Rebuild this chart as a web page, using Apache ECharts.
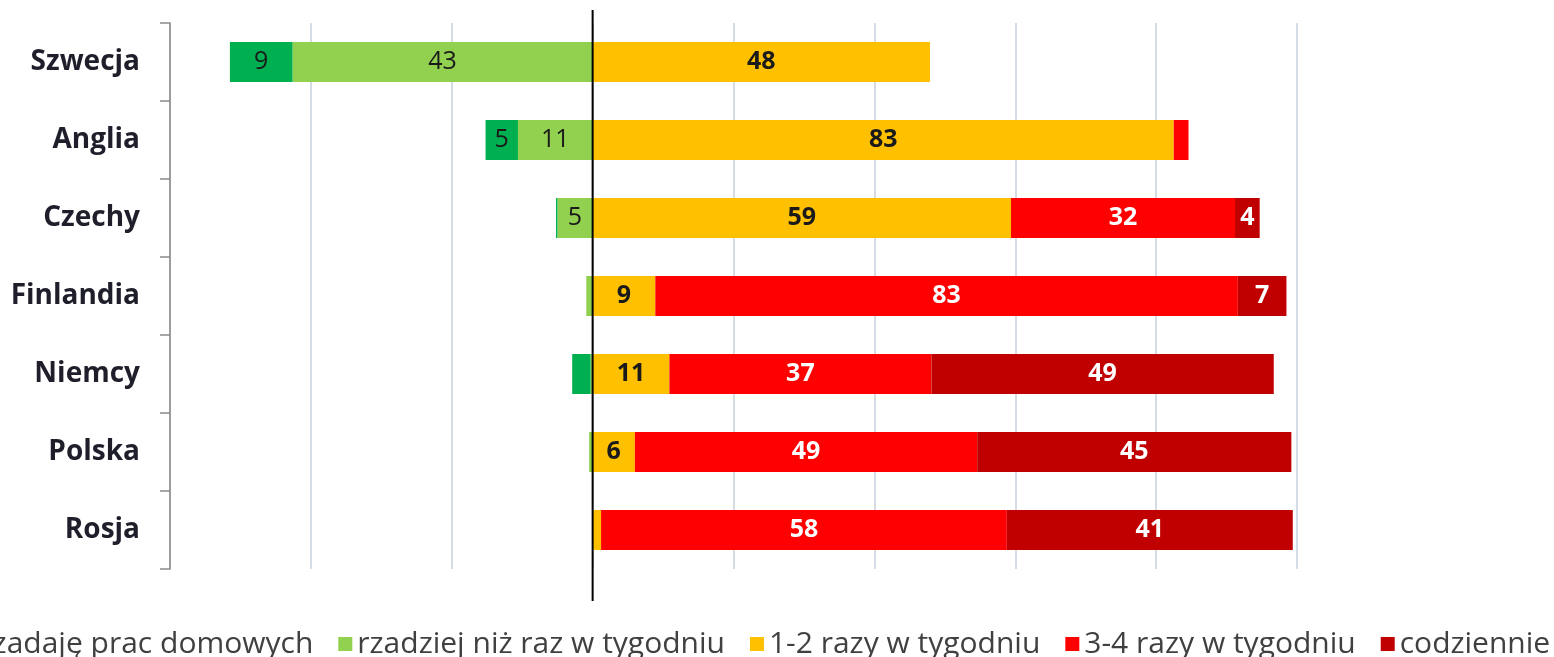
<!DOCTYPE html>
<html>
<head>
<meta charset="utf-8">
<script src="https://cdn.jsdelivr.net/npm/echarts@6/dist/echarts.min.js"></script>
<style>
html,body{margin:0;padding:0;background:#fff;}
#chart{width:1554px;height:657px;}
</style>
</head>
<body>
<div id="chart"></div>
<script>
// Categories (top to bottom)
const categories = ['Szwecja', 'Anglia', 'Czechy', 'Finlandia', 'Niemcy', 'Polska', 'Rosja'];
// Series names
const seriesNames = ['nie zadaję prac domowych', 'rzadziej niż raz w tygodniu', '1-2 razy w tygodniu', '3-4 razy w tygodniu', 'codziennie'];
// Values (%); the first two are plotted to the left of zero
const noHomework    = [8.9, 4.6, 0.2, 0, 2.6, 0, 0];
const lessThanWeek  = [42.6, 10.6, 5, 0.9, 0.3, 0.5, 0];
const oneTwoWeek    = [47.9, 82.5, 59.4, 8.9, 10.9, 6, 1.2];
const threeFourWeek = [0, 2.1, 31.8, 82.7, 37.2, 48.6, 57.6];
const daily         = [0, 0, 3.5, 6.9, 48.6, 44.6, 40.6];
// Value axis ticks
const xMin = -60, xMax = 100, xStep = 20;

const FONT = '"Open Sans", Lato, sans-serif';
const colors = {
  noHomework: '#00b050',
  lessThanWeek: '#92d050',
  oneTwoWeek: '#ffc000',
  threeFourWeek: '#ff0000',
  daily: '#c00000'
};

function lbl(color, weight) {
  return {
    show: true,
    position: 'inside',
    color: color,
    fontFamily: FONT,
    fontSize: 25,
    fontWeight: weight,
    formatter: p => Math.abs(p.value) >= 3.5 ? String(Math.round(Math.abs(p.value))) : ''
  };
}

function bar(name, data, color, label) {
  return {
    name: name,
    type: 'bar',
    stack: 'total',
    barWidth: 40,
    data: data,
    itemStyle: { color: color },
    label: label,
    emphasis: { disabled: true }
  };
}

const chart = echarts.init(document.getElementById('chart'), null, { renderer: 'canvas' });
const option = {
  animation: false,
  backgroundColor: '#ffffff',
  grid: { left: 170, right: 257, top: 23, bottom: 88, containLabel: false },
  legend: {
    data: seriesNames,
    left: -82,
    top: 624,
    width: 1900,
    icon: 'rect',
    itemWidth: 14,
    itemHeight: 14,
    itemGap: 25,
    textStyle: { fontFamily: FONT, fontSize: 30, color: '#404040' }
  },
  xAxis: {
    type: 'value',
    min: xMin,
    max: xMax,
    interval: xStep,
    axisLabel: { show: false },
    axisLine: { show: false },
    axisTick: { show: false },
    splitLine: { show: true, lineStyle: { color: '#c9d0dd', width: 1.5 } }
  },
  yAxis: {
    type: 'category',
    inverse: true,
    data: categories,
    axisLine: { show: true, onZero: false, lineStyle: { color: '#8a8a8a', width: 1.5 } },
    axisTick: { show: true, length: 10, inside: false, lineStyle: { color: '#8a8a8a', width: 1.5 } },
    axisLabel: { margin: 30, fontFamily: FONT, fontSize: 28, fontWeight: 'bold', color: '#1f1f2b' }
  },
  series: [
    bar(seriesNames[1], lessThanWeek.map(v => -v), colors.lessThanWeek, lbl('#1a1a1a', 'normal')),
    bar(seriesNames[0], noHomework.map(v => -v), colors.noHomework, lbl('#1a1a1a', 'normal')),
    bar(seriesNames[2], oneTwoWeek, colors.oneTwoWeek, lbl('#1a1a1a', 'bold')),
    bar(seriesNames[3], threeFourWeek, colors.threeFourWeek, lbl('#ffffff', 'bold')),
    bar(seriesNames[4], daily, colors.daily, lbl('#ffffff', 'bold'))
  ]
};
chart.setOption(option);

// Zero reference line, extending a little beyond the plot area as in the original
const x0 = chart.convertToPixel({ xAxisIndex: 0 }, 0);
chart.setOption({
  graphic: [{
    type: 'line',
    z: 100,
    shape: { x1: x0, y1: 10, x2: x0, y2: 601 },
    style: { stroke: '#000000', lineWidth: 2 }
  }]
});
</script>
</body>
</html>
